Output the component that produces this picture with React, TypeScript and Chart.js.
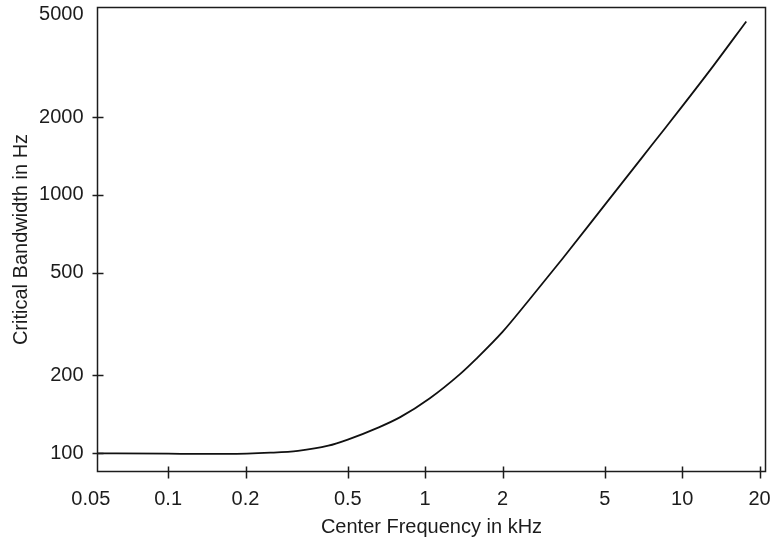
import React, { useEffect, useRef } from "react";
import { Chart, registerables } from "chart.js";

Chart.register(...registerables);

// Data (center frequency in kHz, critical bandwidth in Hz)
const frequencyKHz = [0.05, 0.1, 0.17, 0.25, 0.32, 0.42, 0.5, 0.66, 0.8, 1.04, 1.37, 1.58, 2, 2.5, 3.44, 5, 7, 8.69, 10, 13.2, 17.76];
const bandwidthHz = [100, 99.6, 99.4, 100.5, 102.2, 107, 113, 126, 138, 163, 203, 232, 295, 385, 570, 915, 1400, 1840, 2200, 3150, 4690];

const xTickValues = [0.05, 0.1, 0.2, 0.5, 1, 2, 5, 10, 20];
const yTickValues = [100, 200, 500, 1000, 2000, 5000];
const xTickMarks = [0.1, 0.2, 0.5, 1, 2, 5, 10, 20];
const yTickMarks = [100, 200, 500, 1000, 2000];

const xTitle = "Center Frequency in kHz";
const yTitle = "Critical Bandwidth in Hz";

const FONT = "'Liberation Sans', Arial, Helvetica, sans-serif";
const INK = "#1c1c1c";

const framePlugin = {
  id: "frameAndTicks",
  afterDatasetsDraw(chart: any) {
    const { ctx, chartArea, scales } = chart;
    const { left, top, right, bottom } = chartArea;
    const x = scales.x;
    const y = scales.y;
    ctx.save();
    ctx.strokeStyle = INK;
    ctx.lineWidth = 1.5;
    ctx.strokeRect(left, top, right - left, bottom - top);
    ctx.beginPath();
    xTickMarks.forEach((v) => {
      const px = Math.round(x.getPixelForValue(v)) + 0.5;
      ctx.moveTo(px, bottom - 5);
      ctx.lineTo(px, bottom + 7);
    });
    yTickMarks.forEach((v) => {
      const py = Math.round(y.getPixelForValue(v)) + 0.5;
      ctx.moveTo(left - 5, py);
      ctx.lineTo(left + 6, py);
    });
    ctx.stroke();
    ctx.restore();
  },
};

const zeroPad = (scale: any) => {
  scale.paddingTop = 0;
  scale.paddingBottom = 0;
  scale.paddingLeft = 0;
  scale.paddingRight = 0;
};

export default function App() {
  const canvasRef = useRef<HTMLCanvasElement | null>(null);

  useEffect(() => {
    const canvas = canvasRef.current;
    if (!canvas) return;
    const chart = new Chart(canvas, {
      type: "line",
      data: {
        datasets: [
          {
            data: frequencyKHz.map((f, i) => ({ x: f, y: bandwidthHz[i] })),
            borderColor: "#111111",
            borderWidth: 1.8,
            pointRadius: 0,
            fill: false,
            cubicInterpolationMode: "monotone",
          },
        ],
      },
      options: {
        responsive: false,
        animation: false,
        devicePixelRatio: 1,
        layout: { padding: { top: 7.5, right: 5.5, bottom: 0, left: 0 } },
        plugins: {
          legend: { display: false },
          tooltip: { enabled: false },
        },
        scales: {
          x: {
            type: "logarithmic",
            position: "bottom",
            min: 0.0531,
            max: 21.1,
            afterBuildTicks: (scale: any) => {
              scale.ticks = xTickValues.map((v) => ({ value: v }));
            },
            afterFit: (scale: any) => {
              scale.height = 67.5;
              zeroPad(scale);
            },
            grid: { display: false, drawTicks: false },
            border: { display: false },
            ticks: {
              autoSkip: false,
              maxRotation: 0,
              minRotation: 0,
              padding: 16,
              color: INK,
              font: { family: FONT, size: 20 },
              callback: (v: any) => String(v),
            },
            title: {
              display: true,
              text: xTitle,
              color: INK,
              font: { family: FONT, size: 20 },
              padding: { top: 0, bottom: 0 },
            },
          },
          y: {
            type: "logarithmic",
            position: "left",
            min: 85,
            max: 5310,
            afterBuildTicks: (scale: any) => {
              scale.ticks = yTickValues.map((v) => ({ value: v }));
            },
            afterFit: (scale: any) => {
              scale.width = 97.5;
              zeroPad(scale);
            },
            grid: { display: false, drawTicks: false },
            border: { display: false },
            ticks: {
              autoSkip: false,
              padding: 14,
              color: INK,
              font: { family: FONT, size: 20 },
              callback: (v: any) => String(v),
            },
            title: {
              display: true,
              text: yTitle,
              color: INK,
              font: { family: FONT, size: 20 },
              padding: { top: 9, bottom: 0 },
            },
          },
        },
      },
      plugins: [framePlugin],
    } as any);
    return () => chart.destroy();
  }, []);

  return (
    <div style={{ position: "absolute", left: 0, top: 0, width: 771, height: 539, background: "#ffffff" }}>
      <canvas ref={canvasRef} width={771} height={539} style={{ display: "block", width: 771, height: 539 }} />
    </div>
  );
}
